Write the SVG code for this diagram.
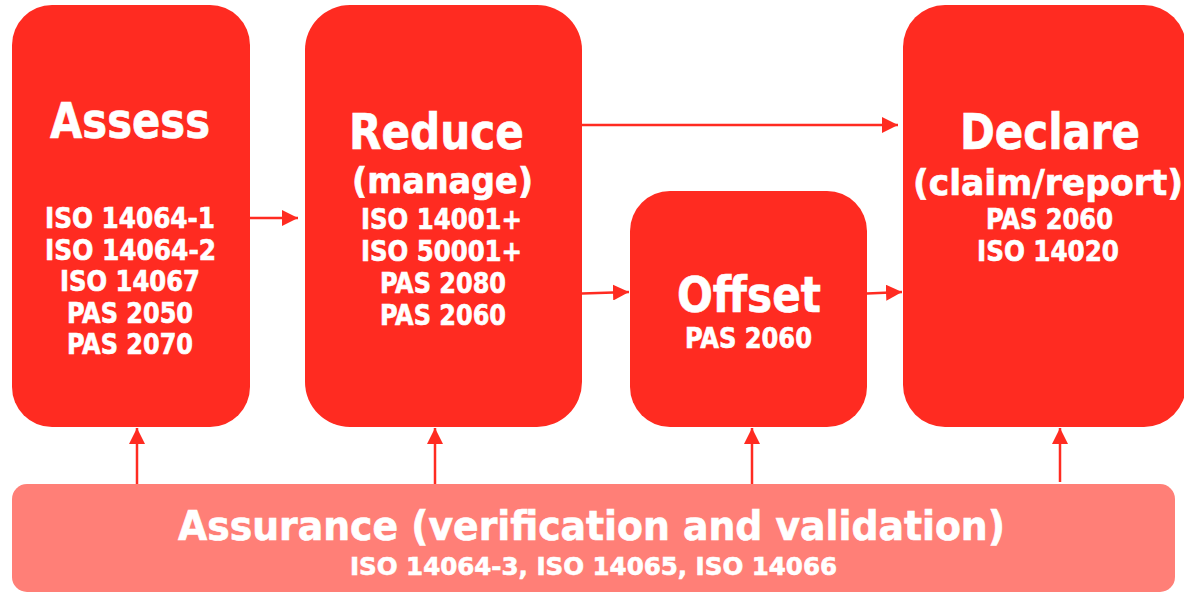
<svg xmlns="http://www.w3.org/2000/svg" width="1184" height="593" viewBox="0 0 1184 593">
<style>
.box{fill:#FF2B21;}
.assure{fill:#FF7F77;}
text{font-family:"DejaVu Sans Condensed","DejaVu Sans",sans-serif;font-weight:bold;fill:#FFFFFF;stroke:#FFFFFF;stroke-width:0.6;text-anchor:middle;}
.t{font-size:49px;}
.s{font-size:35px;}
.n{font-size:27.5px;}
.a{font-size:40px;}
.a2{font-size:25px;}
.c{stroke:#FF2B21;stroke-width:2.5;fill:none;}
</style>
<defs>
<marker id="ah" viewBox="0 0 16 16" refX="16" refY="8" markerWidth="16" markerHeight="16" markerUnits="userSpaceOnUse" orient="auto">
<path d="M0,0 L16,8 L0,16 Z" fill="#FF2B21"/>
</marker>
</defs>
<rect width="1184" height="593" fill="#FFFFFF"/>
<g id="connectors">
<line class="c" x1="250" y1="218" x2="298" y2="218" marker-end="url(#ah)"/>
<line class="c" x1="582" y1="125" x2="898" y2="125" marker-end="url(#ah)"/>
<line class="c" x1="582" y1="293.5" x2="629" y2="292" marker-end="url(#ah)"/>
<line class="c" x1="867" y1="293.5" x2="902" y2="292" marker-end="url(#ah)"/>
<line class="c" x1="137" y1="484" x2="137" y2="428" marker-end="url(#ah)"/>
<line class="c" x1="435" y1="484" x2="435" y2="428" marker-end="url(#ah)"/>
<line class="c" x1="752" y1="484" x2="752" y2="428" marker-end="url(#ah)"/>
<line class="c" x1="1060" y1="482" x2="1060" y2="428" marker-end="url(#ah)"/>
</g>
<g id="assess">
<rect class="box" x="12" y="5" width="238" height="422" rx="40"/>
<text class="t" x="130" y="138" textLength="160" lengthAdjust="spacingAndGlyphs">Assess</text>
<text class="n" x="130" y="228" textLength="170" lengthAdjust="spacingAndGlyphs">ISO 14064-1</text>
<text class="n" x="130.5" y="259.5" textLength="171" lengthAdjust="spacingAndGlyphs">ISO 14064-2</text>
<text class="n" x="130" y="291" textLength="140" lengthAdjust="spacingAndGlyphs">ISO 14067</text>
<text class="n" x="130" y="322.5" textLength="126" lengthAdjust="spacingAndGlyphs">PAS 2050</text>
<text class="n" x="130" y="354" textLength="126" lengthAdjust="spacingAndGlyphs">PAS 2070</text>
</g>
<g id="reduce">
<rect class="box" x="305" y="5" width="277" height="422" rx="45"/>
<text class="t" x="436.5" y="149" textLength="175" lengthAdjust="spacingAndGlyphs">Reduce</text>
<text class="s" x="442.5" y="193" textLength="181" lengthAdjust="spacingAndGlyphs">(manage)</text>
<text class="n" x="441.5" y="229" textLength="161" lengthAdjust="spacingAndGlyphs">ISO 14001+</text>
<text class="n" x="441.5" y="261" textLength="161" lengthAdjust="spacingAndGlyphs">ISO 50001+</text>
<text class="n" x="443" y="293" textLength="126" lengthAdjust="spacingAndGlyphs">PAS 2080</text>
<text class="n" x="443" y="325" textLength="126" lengthAdjust="spacingAndGlyphs">PAS 2060</text>
</g>
<g id="offset">
<rect class="box" x="630" y="191" width="237" height="236" rx="40"/>
<text class="t" x="749" y="312" textLength="144" lengthAdjust="spacingAndGlyphs">Offset</text>
<text class="n" x="748.5" y="348" textLength="127" lengthAdjust="spacingAndGlyphs">PAS 2060</text>
</g>
<g id="declare">
<rect class="box" x="903" y="5" width="283" height="422" rx="42"/>
<text class="t" x="1050" y="149" textLength="180" lengthAdjust="spacingAndGlyphs">Declare</text>
<text class="s" x="1048" y="195" textLength="270" lengthAdjust="spacingAndGlyphs">(claim/report)</text>
<text class="n" x="1049.5" y="229" textLength="127" lengthAdjust="spacingAndGlyphs">PAS 2060</text>
<text class="n" x="1048" y="261" textLength="142" lengthAdjust="spacingAndGlyphs">ISO 14020</text>
</g>
<g id="assurance">
<rect class="assure" x="12" y="484" width="1163" height="108" rx="15"/>
<text class="a" x="591.5" y="540" textLength="827" lengthAdjust="spacingAndGlyphs">Assurance (verification and validation)</text>
<text class="a2" x="593.5" y="575" textLength="487" lengthAdjust="spacingAndGlyphs">ISO 14064-3, ISO 14065, ISO 14066</text>
</g>
</svg>
